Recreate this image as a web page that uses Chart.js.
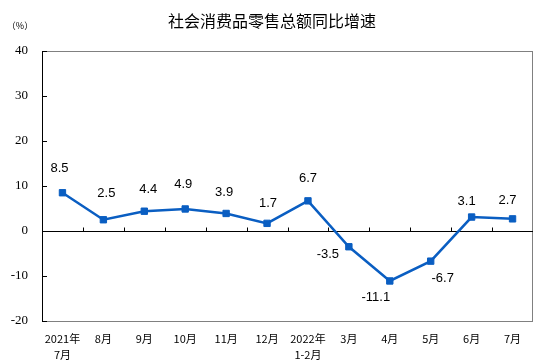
<!DOCTYPE html>
<html>
<head>
<meta charset="utf-8">
<script src="https://cdn.jsdelivr.net/npm/chart.js@4"></script>
<style>
  html, body { margin: 0; padding: 0; background: #fff; }
  #wrap { width: 539px; height: 364px; position: relative; }
</style>
</head>
<body>
<div id="wrap"><canvas id="chart"></canvas></div>
<script>
// categories, two-line labels
const months = [
  ['2021年', '7月'], '8月', '9月', '10月', '11月', '12月',
  ['2022年', '1-2月'], '3月', '4月', '5月', '6月', '7月'
];
const growth = [8.5, 2.5, 4.4, 4.9, 3.9, 1.7, 6.7, -3.5, -11.1, -6.7, 3.1, 2.7];
const yTicks = [40, 30, 20, 10, 0, -10, -20];

// label placement relative to each point (dx, dy)
const labelOffsets = [
  [-3, -24], [3, -26], [4, -22], [-2, -25], [-2, -21], [1, -20],
  [0, -22], [-21, 8], [-14, 16], [12, 17], [-5, -16], [-5, -18]
];

const frame = {
  id: 'frame',
  beforeDatasetsDraw(chart) {
    const { ctx, chartArea: a, scales: { x, y } } = chart;
    ctx.save();
    // gray box
    ctx.strokeStyle = '#808080';
    ctx.lineWidth = 1;
    ctx.strokeRect(a.left + 0.5, a.top + 0.5, a.right - a.left - 1, a.bottom - a.top);
    // left axis & y ticks
    ctx.strokeStyle = '#000';
    ctx.beginPath();
    ctx.moveTo(a.left + 0.5, a.top);
    ctx.lineTo(a.left + 0.5, a.bottom);
    yTicks.forEach(v => {
      const py = Math.round(y.getPixelForValue(v)) + 0.5;
      ctx.moveTo(a.left, py);
      ctx.lineTo(a.left + 5, py);
    });
    // zero line
    const zy = Math.round(y.getPixelForValue(0)) + 0.5;
    ctx.moveTo(a.left, zy);
    ctx.lineTo(a.right, zy);
    // category ticks on zero line
    for (let i = 1; i < months.length; i++) {
      const px = Math.round((x.getPixelForValue(i - 1) + x.getPixelForValue(i)) / 2) + 0.5;
      ctx.moveTo(px, zy);
      ctx.lineTo(px, zy - 4);
    }
    ctx.stroke();

    // y tick labels
    ctx.fillStyle = '#000';
    ctx.font = '13px "Liberation Serif"';
    ctx.textAlign = 'right';
    ctx.textBaseline = 'middle';
    yTicks.forEach(v => {
      ctx.fillText(String(v), a.left - 14, y.getPixelForValue(v));
    });

    // x labels
    ctx.font = '11px "Noto Sans CJK SC"';
    ctx.textAlign = 'center';
    ctx.textBaseline = 'middle';
    months.forEach((m, i) => {
      const px = x.getPixelForValue(i);
      const lines = Array.isArray(m) ? m : [m];
      lines.forEach((t, j) => ctx.fillText(t, px, a.bottom + 18 + j * 16));
    });

    // title and unit
    ctx.font = '16px "Noto Sans CJK SC"';
    ctx.fillText('社会消费品零售总额同比增速', 272, 21);
    ctx.font = '9px "Noto Sans CJK SC"';
    ctx.fillText('（%）', 20, 26);
    ctx.restore();
  },
  afterDatasetsDraw(chart) {
    const { ctx } = chart;
    const meta = chart.getDatasetMeta(0);
    ctx.save();
    ctx.fillStyle = '#000';
    ctx.font = '13px "Liberation Sans"';
    ctx.textAlign = 'center';
    ctx.textBaseline = 'middle';
    meta.data.forEach((pt, i) => {
      const [dx, dy] = labelOffsets[i];
      ctx.fillText(growth[i].toFixed(1), pt.x + dx, pt.y + dy);
    });
    ctx.restore();
  }
};

new Chart(document.getElementById('chart'), {
  type: 'line',
  data: {
    labels: months,
    datasets: [{
      data: growth,
      borderColor: '#0A5EC2',
      backgroundColor: '#0A5EC2',
      borderWidth: 2.5,
      pointStyle: 'rect',
      pointRadius: 4.5,
      pointBorderWidth: 1,
      tension: 0
    }]
  },
  options: {
    responsive: true,
    maintainAspectRatio: false,
    animation: false,
    events: [],
    layout: { padding: { top: 51, right: 6, left: 0, bottom: 0 } },
    plugins: { legend: { display: false }, tooltip: { enabled: false } },
    scales: {
      x: {
        offset: true,
        grid: { display: false },
        border: { display: false },
        ticks: { display: false },
        afterFit(s) { s.height = 43; }
      },
      y: {
        min: -20,
        max: 40,
        grid: { display: false },
        border: { display: false },
        ticks: { display: false, stepSize: 10 },
        afterFit(s) { s.width = 42; }
      }
    }
  },
  plugins: [frame]
});
</script>
</body>
</html>
